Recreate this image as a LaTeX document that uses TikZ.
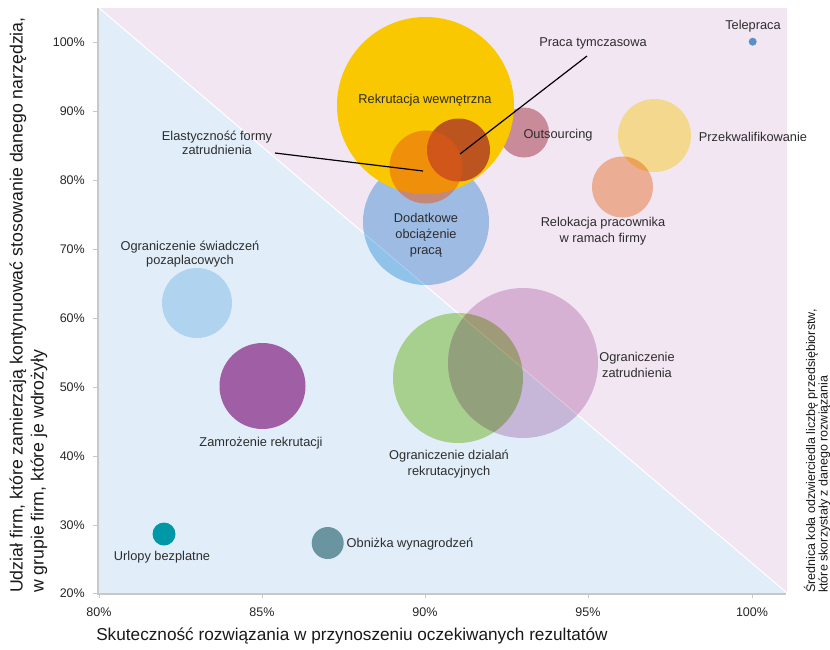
\documentclass[tikz,border=0pt]{standalone}
\usepackage{fontspec}
\setmainfont{Liberation Sans}
\definecolor{bgblue}{RGB}{225,238,250}
\definecolor{bgpink}{RGB}{243,230,243}
\definecolor{axisgray}{RGB}{200,200,200}
\definecolor{labelgray}{RGB}{45,45,45}
\definecolor{cyellow}{RGB}{249,200,0}
\definecolor{cbrown}{RGB}{188,84,32}
\definecolor{corange}{RGB}{231,88,20}
\definecolor{cdodat}{RGB}{165,208,239}
\definecolor{cout}{RGB}{201,138,154}
\definecolor{cprzek}{RGB}{255,240,149}
\definecolor{crelok}{RGB}{247,194,156}
\definecolor{czatr}{RGB}{225,197,222}
\definecolor{cgreen}{RGB}{190,223,146}
\definecolor{czamr}{RGB}{160,94,165}
\definecolor{cswiad}{RGB}{176,211,240}
\definecolor{curlop}{RGB}{0,151,167}
\definecolor{cobniz}{RGB}{106,148,160}
\definecolor{ctele}{RGB}{91,143,200}
\begin{document}
\begin{tikzpicture}[x=1pt,y=-1pt,
  lbl/.style={font=\fontsize{12.8}{#1}\selectfont, text=labelgray, align=center, inner sep=0},
  lbl/.default=14,
  ticklbl/.style={font=\fontsize{12.5}{14}\selectfont, text=black!85, inner sep=0},
  axtitle/.style={font=\fontsize{17.2}{21}\selectfont, text=black!90, inner sep=0},
  leader/.style={black, line width=1.2pt},
  axisline/.style={axisgray, line width=2pt},
  mult/.style={blend mode=multiply}]
\useasboundingbox (0,0) rectangle (830,649);
% plot background
\fill[bgpink] (99,8) rectangle (787,593);
\fill[bgblue] (99,8) -- (787,593) -- (99,593) -- cycle;
\draw[white, line width=1pt] (99,8) -- (787,593);
% bubble centres
\coordinate (pRek) at (425.5,105.5);
\coordinate (pEla) at (426,167);
\coordinate (pPra) at (458.5,150);
\coordinate (pOut) at (524,132.5);
\coordinate (pPrz) at (654.5,135.5);
\coordinate (pRel) at (622.5,187);
\coordinate (pTel) at (752.7,41.7);
\coordinate (pDod) at (426,222);
\coordinate (pSwi) at (197,303);
\coordinate (pZam) at (262.5,386);
\coordinate (pUrl) at (164,534);
\coordinate (pObn) at (327.7,543);
\coordinate (pDzi) at (458,378);
\coordinate (pZat) at (523,363);
% bubbles
\fill[cout] (pOut) circle (25);
\fill[cdodat, mult] (pDod) circle (63);
\fill[cyellow] (pRek) circle (88.5);
\fill[cbrown] (pPra) circle (31.5);
\fill[corange, fill opacity=0.5] (pEla) circle (36.5);
\fill[cgreen, mult] (pDzi) circle (65);
\fill[czatr, mult] (pZat) circle (75);
\fill[crelok, mult] (pRel) circle (30.5);
\fill[cprzek, mult] (pPrz) circle (36.5);
\fill[czamr] (pZam) circle (43);
\fill[cswiad] (pSwi) circle (35);
\fill[curlop] (pUrl) circle (11.5);
\fill[cobniz] (pObn) circle (16);
\fill[ctele] (pTel) circle (4);
% axes
\draw[axisline] (98,8) -- (98,594) -- (786,594);
\foreach \v/\yy in {100/42,90/111,80/180,70/249,60/318,50/387,40/456,30/525,20/593}{
  \draw[axisgray, line width=1pt] (93,\yy) -- (98,\yy);
  \node[ticklbl, anchor=east] (yt\v) at (85,\yy) {\v\%};
}
\foreach \v/\xx in {80/99,85/262,90/425,95/588,100/752}{
  \draw[axisgray, line width=1pt] (\xx,594) -- (\xx,598);
  \node[ticklbl] (xt\v) at (\xx,612) {\v\%};
}
% axis titles
\node[axtitle] (xtitle) at (352,636) {Skuteczność rozwiązania w przynoszeniu oczekiwanych rezultatów};
\node[axtitle, font=\fontsize{17.7}{21}\selectfont, rotate=90, anchor=west, align=left] (ytitle) at (28.5,593)
  {Udział firm, które zamierzają kontynuować stosowanie danego narzędzia,\\w grupie firm, które je wdrożyły};
\node[font=\fontsize{12.5}{12.5}\selectfont, text=black!90, inner sep=0, rotate=90, anchor=west, align=left] (rtitle) at (817,593)
  {Średnica koła odzwierciedla liczbę przedsiębiorstw,\\które skorzystały z danego rozwiązania};
% labels
\node[lbl] (lTel) at (753,26) {Telepraca};
\node[lbl] (lPra) at (593,43) {Praca tymczasowa};
\node[lbl] (lRek) at (425,100) {Rekrutacja wewnętrzna};
\node[lbl=13.5] (lEla) at (217,143) {Elastyczność formy\\zatrudnienia};
\node[lbl] (lOut) at (558,135) {Outsourcing};
\node[lbl] (lPrz) at (753,137) {Przekwalifikowanie};
\node[lbl=15.5] (lRel) at (603,231) {Relokacja pracownika\\w ramach firmy};
\node[lbl=16] (lDod) at (426,235) {Dodatkowe\\obciążenie\\pracą};
\node[lbl=14.5] (lSwi) at (190,254) {Ograniczenie świadczeń\\pozaplacowych};
\node[lbl=15.5] (lZat) at (637,365) {Ograniczenie\\zatrudnienia};
\node[lbl=16] (lDzi) at (449,464) {Ograniczenie dzialań\\rekrutacyjnych};
\node[lbl] (lZam) at (261,443) {Zamrożenie rekrutacji};
\node[lbl] (lUrl) at (162,557) {Urlopy bezplatne};
\node[lbl] (lObn) at (410,544) {Obniżka wynagrodzeń};
% leaders
\coordinate (sEla) at (275,153);
\coordinate (eEla) at (423,171);
\coordinate (sPra) at (587,56);
\coordinate (ePra) at (460,154);
\draw[leader] (sEla) -- (eEla);
\draw[leader] (sPra) -- (ePra);
\end{tikzpicture}
\end{document}
